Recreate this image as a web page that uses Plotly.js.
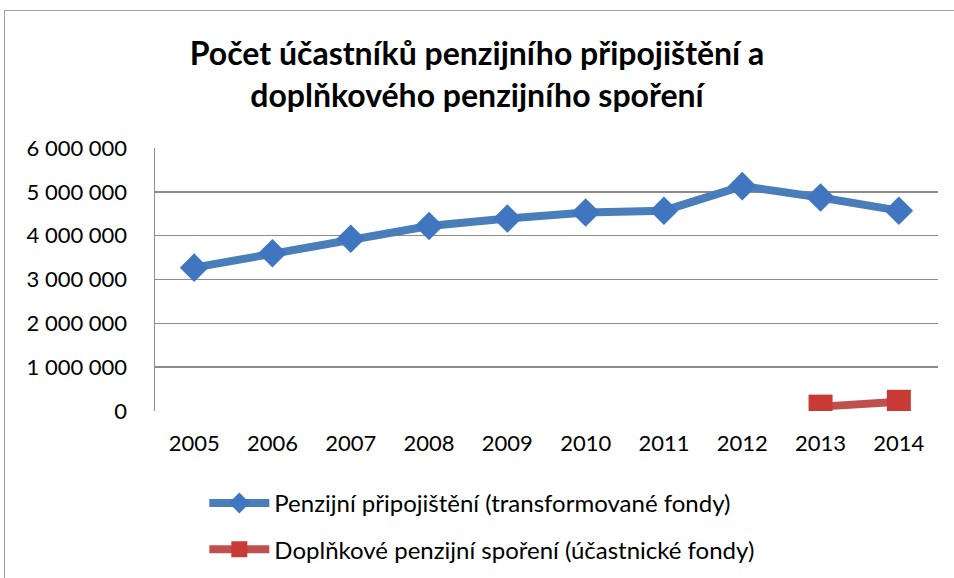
<!DOCTYPE html>
<html><head><meta charset="utf-8">
<script src="https://cdn.plot.ly/plotly-3.0.1.min.js"></script>
<style>body{margin:0;background:#fff}#frame{position:absolute;left:4px;top:10px;width:960px;height:580px;border:1.5px solid #a0a0a0;box-sizing:border-box}#c{position:absolute;left:0;top:0;width:954px;height:578px}</style>
</head><body><div id="frame"></div><div id="c"></div>
<script>
const years = ['2005','2006','2007','2008','2009','2010','2011','2012','2013','2014'];
const ppValues = [3270000,3600000,3930000,4220000,4390000,4530000,4570000,5130000,4870000,4570000];
const dpsYears = ['2013','2014'];
const dpsValues = [100000,210000];
const seriesNames = ['Penzijní připojištění (transformované fondy)','Doplňkové penzijní spoření (účastnické fondy)'];
const titleText = 'Počet účastníků penzijního připojištění a<br>doplňkového penzijního spoření';
const yTicks = [0,1000000,2000000,3000000,4000000,5000000,6000000];

const traces = [
 {x: years, y: ppValues, name: seriesNames[0], legendgroup:'a', type:'scatter', mode:'lines+markers',
  line:{color:'#4a7ebb', width:8}, marker:{symbol:'diamond', size:22, color:'#3f76bf'}},
 {x: dpsYears, y: dpsValues, name: seriesNames[1], legendgroup:'b', type:'scatter', mode:'lines+markers',
  line:{color:'#c0504d', width:8}, marker:{symbol:'square', size:24, color:'#c83a35'}}
];
const layout = {
 width:954, height:578, paper_bgcolor:'rgba(0,0,0,0)', plot_bgcolor:'rgba(0,0,0,0)',
 separators:', ',
 font:{family:'Lato, "Open Sans", sans-serif', color:'#000'},
 title:{text:'<b>'+titleText+'</b>', x:0.5, xanchor:'center', y:0.887, yanchor:'middle', font:{size:32, family:'Lato, "Open Sans", sans-serif'}},
 margin:{l:155, r:16, t:148, b:167},
 xaxis:{type:'category', range:[-0.5,9.5], showgrid:false, showline:false, ticks:'', tickfont:{size:22}, ticklabelstandoff:17, fixedrange:true},
 yaxis:{range:[0,6000000], tickvals:yTicks, tickformat:',d', showgrid:true, gridcolor:'#8c8c8c', gridwidth:1.5,
   showline:true, linecolor:'#8c8c8c', linewidth:1.5, zeroline:false, tickfont:{size:22}, ticks:'outside', ticklen:0, ticklabelstandoff:22},
 showlegend:true,
 legend:{orientation:'v', x:0.063, xanchor:'left', xref:'paper', yref:'container', y:0.168, yanchor:'top', font:{size:24}, tracegroupgap:12, itemwidth:60, itemsizing:'trace'}
};
Plotly.newPlot('c', traces, layout, {staticPlot:true});
</script></body></html>
